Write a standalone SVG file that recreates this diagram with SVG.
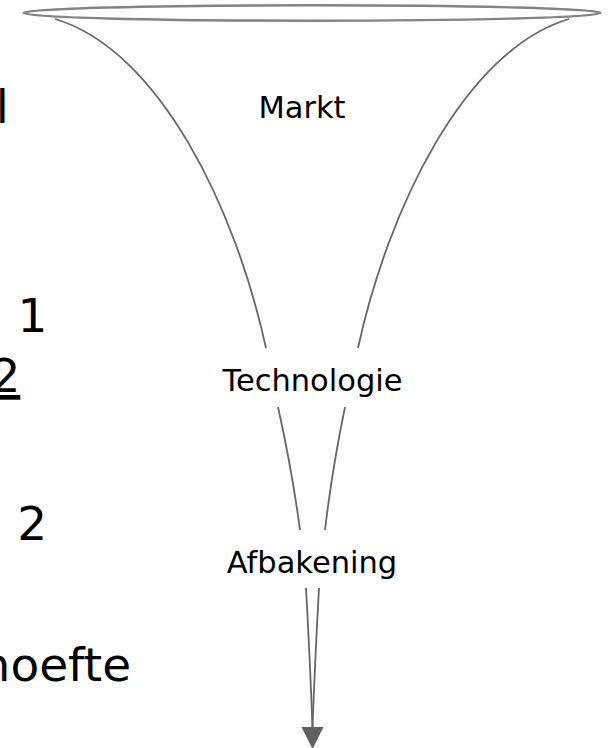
<svg xmlns="http://www.w3.org/2000/svg" width="610" height="748" viewBox="0 0 610 748">
  <style>
    .lbl { font-family: "DejaVu Sans", Verdana, sans-serif; font-size: 30.5px; fill: #000; text-anchor: middle; }
    .side { font-family: "DejaVu Sans", Verdana, sans-serif; font-size: 47px; fill: #000; }
    .rim { fill: none; stroke: #848484; stroke-width: 2.4; }
    .wall { fill: none; stroke: #666; stroke-width: 1.8; }
  </style>
  <rect width="610" height="748" fill="#fff"/>

  <g id="side-text">
    <text class="side" x="-4.3" y="123.3" font-size="43">l</text>
    <text class="side" x="17.5" y="332">1</text>
    <text class="side" x="-9.6" y="392" font-size="34" text-decoration="underline">2</text>
    <text class="side" x="17.3" y="540">2</text>
    <text class="side" x="-19.4" y="680.7">hoefte</text>
  </g>

  <g id="funnel-rim">
    <ellipse class="rim" cx="312" cy="13" rx="288.6" ry="7.7"/>
  </g>

  <g id="connectors">
    <path class="wall" d="M55,19 C160,50 236,210 266,348"/>
    <path class="wall" d="M569,19 C464,50 388,210 358,348"/>
    <path class="wall" d="M278,407 Q292,470 300,530"/>
    <path class="wall" d="M345,407 Q332,470 325,530"/>
    <path class="wall" d="M306,588 Q310,660 312.5,728"/>
    <path class="wall" d="M319,588 Q315,660 312.5,728"/>
    <path d="M301.5,727 L323.5,727 L312.5,749 Z" fill="#606060"/>
  </g>

  <g id="node-markt">
    <text class="lbl" x="302" y="117.7">Markt</text>
  </g>
  <g id="node-technologie">
    <text class="lbl" x="312.5" y="391">Technologie</text>
  </g>
  <g id="node-afbakening">
    <text class="lbl" x="312" y="572.7">Afbakening</text>
  </g>
</svg>
